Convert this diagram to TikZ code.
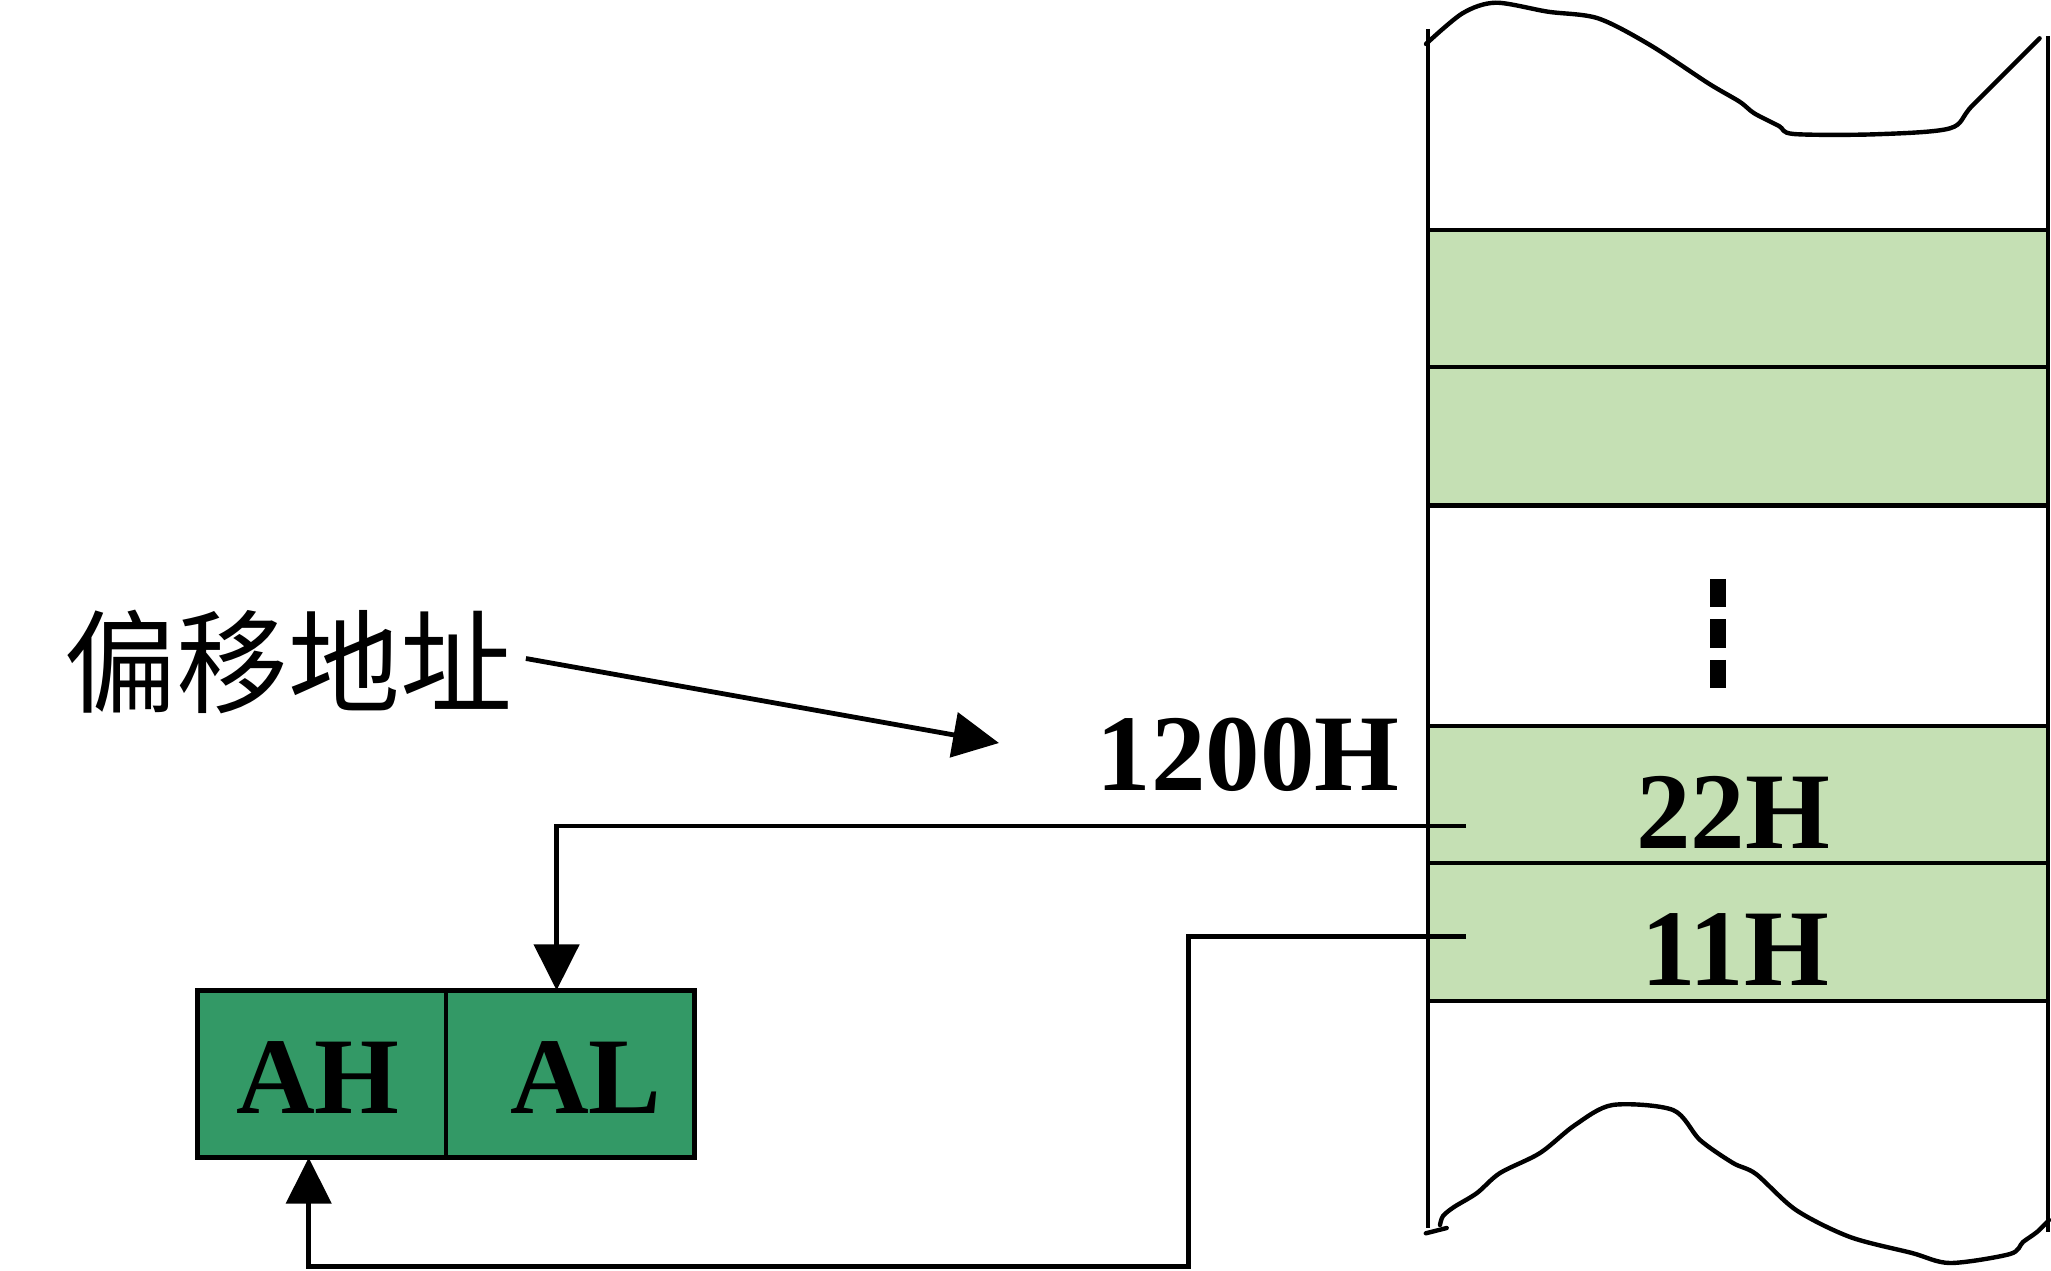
\documentclass[tikz,border=0pt]{standalone}
\usepackage{fontspec}
\setmainfont{Liberation Serif}
\newfontfamily\cjkfont{Noto Sans CJK SC}
\usetikzlibrary{arrows.meta}
\definecolor{lgreen}{HTML}{C5E0B4}
\definecolor{dgreen}{HTML}{339966}
\begin{document}
\begin{tikzpicture}[x=1pt,y=-1pt, line width=4.8pt,
  arr/.style={-{Triangle[length=46pt,width=45pt]}},
  cell/.style={draw, minimum width=620pt, inner sep=0pt, outer sep=0pt},
  reg/.style={draw, fill=dgreen, minimum width=248.5pt, minimum height=167.4pt, inner sep=0pt, outer sep=0pt},
  val/.style={font=\fontsize{109}{120}\selectfont\bfseries, inner sep=0pt, anchor=base},
  wave/.style={line width=4.4pt, line join=round, line cap=round}
  ]
\useasboundingbox (0,0) rectangle (2051,1271);
% memory cells
\node[cell, fill=lgreen, minimum height=137pt] (c1) at (1738,298.5) {};
\node[cell, fill=lgreen, minimum height=138.8pt] (c2) at (1738,436.4) {};
\node[cell, minimum height=220.2pt] (c3) at (1738,615.9) {};
\node[cell, fill=lgreen, minimum height=137pt] (c4) at (1738,794.5) {};
\node[cell, fill=lgreen, minimum height=138pt] (c5) at (1738,932) {};
% side lines
\draw (1428,29) -- (1428,1228);
\draw (2048,36) -- (2048,1232);
% wavy edges
\draw[wave] plot[smooth, tension=0.5] coordinates {(1426,44) (1462.5,13.3) (1495.8,2.7) (1547.9,11.7) (1597.9,18.3) (1650,45) (1708.3,83.3) (1739.6,101.7) (1754.2,113.3) (1779,126) (1793.8,134) (1875,134.3) (1950,128.3) (1972.9,105) (2039.6,38.3)};
\draw[wave] (1425.8,1233.3) -- (1446.7,1228);
\draw[wave] plot[smooth, tension=0.5] coordinates {(1440,1225) (1443,1216) (1454,1207) (1477,1193) (1500,1173) (1540,1153) (1575,1125) (1612.5,1105) (1673,1110) (1700,1140) (1733,1163) (1756,1174) (1796,1210) (1850,1237) (1912,1253) (1950,1263) (2010,1254) (2023,1242) (2037,1232) (2049,1220)};
% vertical dots
\draw[line width=16pt, dash pattern=on 28.5pt off 12pt] (1718,578.8) -- (1718,689.4);
% values
\node[val] (t22) at (1733,848.5) {22H};
\node[val] (t11) at (1735,985.5) {11H};
\node[val] (t1200) at (1248,790) {1200H};
% register
\node[reg] (AHc) at (321.7,1074) {};
\node[reg] (ALc) at (570.2,1074) {};
\node[val] (tAH) at (318,1113) {AH};
\node[val] (tAL) at (586,1113) {AL};
% label
\node[font=\cjkfont\fontsize{112}{120}\selectfont, inner sep=0pt] (lbl) at (288.5,662) {偏移地址};
\coordinate (ae) at (999,743);
\draw[arr] ([xshift=11pt,yshift=3.5pt]lbl.east) -- (ae);
% connectors
\coordinate (k1) at (1466,826);
\coordinate (k2) at (1466,936.7);
\coordinate (b2) at (1188.3,1266.7);
\draw[arr] (k1) -| ([xshift=-13.6pt]ALc.north);
\draw[arr] (k2) -| (b2) -| ([xshift=-13pt]AHc.south);
\end{tikzpicture}
\end{document}
